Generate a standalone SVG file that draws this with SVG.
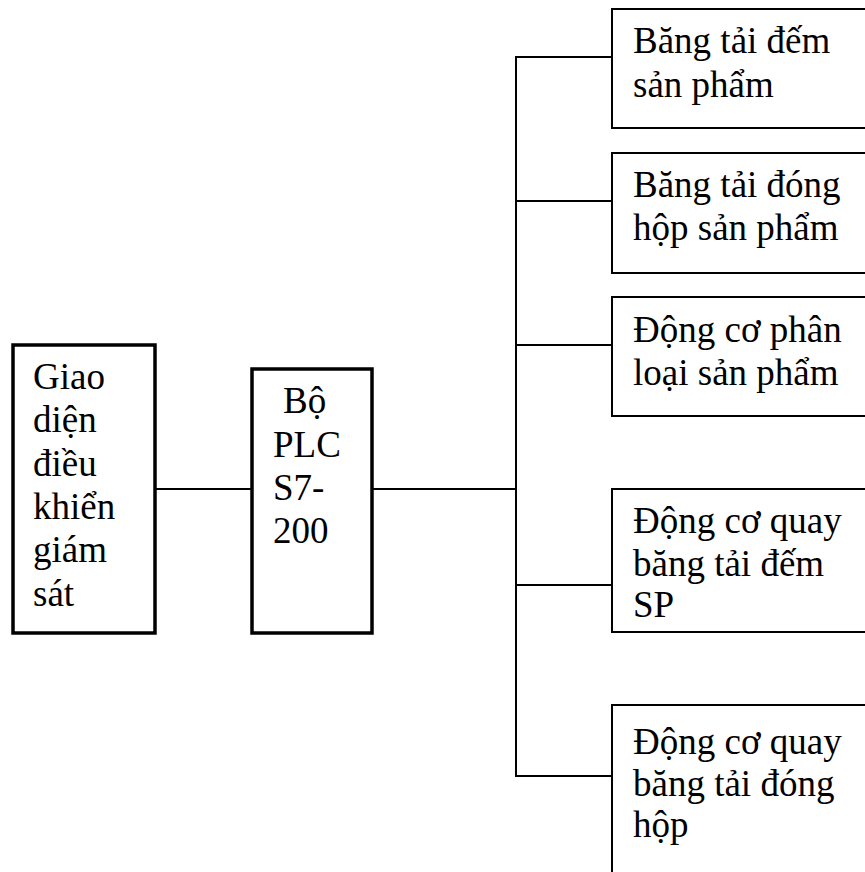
<svg xmlns="http://www.w3.org/2000/svg" width="865" height="872" viewBox="0 0 865 872">
  <style>
    .thick { fill: #fff; stroke: #000; stroke-width: 3.5; }
    .thin { fill: #fff; stroke: #000; stroke-width: 2; }
    .wire { fill: none; stroke: #000; stroke-width: 2; }
    text { font-family: "Liberation Serif", "Times New Roman", serif; font-size: 37px; fill: #000; }
  </style>
  <rect width="865" height="872" fill="#fff"/>

  <g id="connectors">
    <line class="wire" x1="155" y1="489" x2="252" y2="489"/>
    <line class="wire" x1="372" y1="489" x2="516" y2="489"/>
    <polyline class="wire" points="612,57 516,57 516,776 612,776"/>
    <line class="wire" x1="516" y1="201" x2="612" y2="201"/>
    <line class="wire" x1="516" y1="345" x2="612" y2="345"/>
    <line class="wire" x1="516" y1="585" x2="612" y2="585"/>
  </g>

  <g id="giao-dien">
    <rect class="thick" x="13" y="345" width="142" height="288"/>
    <text x="33" y="389">Giao</text>
    <text x="33" y="432">diện</text>
    <text x="33" y="476">điều</text>
    <text x="33" y="519">khiển</text>
    <text x="33" y="562">giám</text>
    <text x="33" y="606">sát</text>
  </g>

  <g id="plc">
    <rect class="thick" x="252" y="369" width="120" height="264"/>
    <text x="283" y="413">Bộ</text>
    <text x="273" y="457">PLC</text>
    <text x="273" y="500">S7-</text>
    <text x="273" y="543">200</text>
  </g>

  <g id="bang-tai-dem">
    <rect class="thin" x="612" y="9" width="270" height="119"/>
    <text x="633" y="53">Băng tải đếm</text>
    <text x="633" y="97">sản phẩm</text>
  </g>

  <g id="bang-tai-dong-hop">
    <rect class="thin" x="612" y="153" width="270" height="120"/>
    <text x="633" y="197">Băng tải đóng</text>
    <text x="633" y="240">hộp sản phẩm</text>
  </g>

  <g id="dong-co-phan-loai">
    <rect class="thin" x="612" y="297" width="270" height="119"/>
    <text x="633" y="342">Động cơ phân</text>
    <text x="633" y="385">loại sản phẩm</text>
  </g>

  <g id="dong-co-bang-tai-dem">
    <rect class="thin" x="612" y="489" width="270" height="143"/>
    <text x="633" y="533">Động cơ quay</text>
    <text x="633" y="576">băng tải đếm</text>
    <text x="633" y="617">SP</text>
  </g>

  <g id="dong-co-bang-tai-dong-hop">
    <rect class="thin" x="612" y="705" width="270" height="190"/>
    <text x="633" y="754">Động cơ quay</text>
    <text x="633" y="796">băng tải đóng</text>
    <text x="633" y="837">hộp</text>
  </g>
</svg>
